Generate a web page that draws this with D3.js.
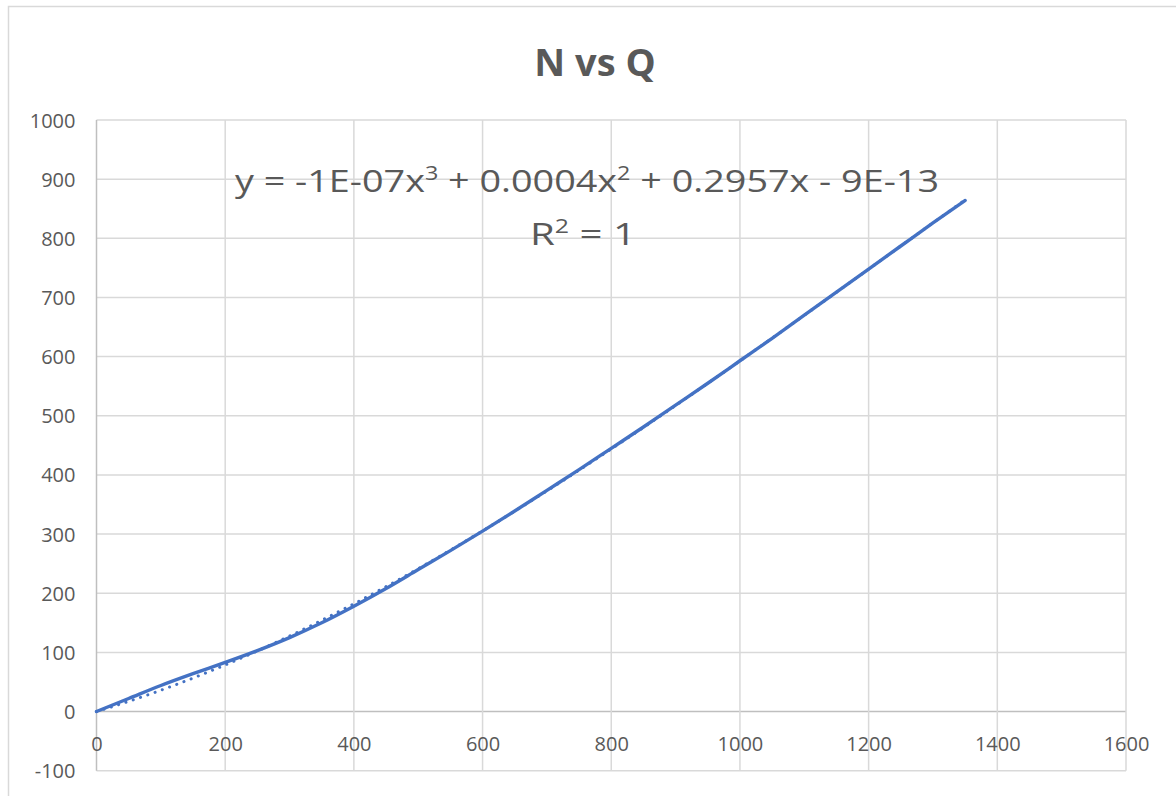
<!DOCTYPE html>
<html>
<head>
<meta charset="utf-8">
<script src="https://cdn.jsdelivr.net/npm/d3@7"></script>
<style>
  html, body { margin: 0; padding: 0; background: #ffffff; }
  svg { display: block; }
</style>
</head>
<body>
<svg id="chart" width="1176" height="796"></svg>
<script>
// ---- data ----
const chartTitle = "N vs Q";
const qValues = [0, 50, 100, 150, 200, 250, 300, 350, 400, 450, 500, 550, 600, 650, 700,
                 750, 800, 850, 900, 950, 1000, 1050, 1100, 1150, 1200, 1250, 1300, 1350];
const nValues = [0, 22, 44, 64, 83, 103, 125, 150, 178, 208, 240, 272, 305, 339, 374,
                 409, 445, 481, 518, 555, 593, 631, 670, 709, 748, 787, 826, 864];
const xTicks = [0, 200, 400, 600, 800, 1000, 1200, 1400, 1600];
const yTicks = [-100, 0, 100, 200, 300, 400, 500, 600, 700, 800, 900, 1000];
const equationParts = ["y = -1E-07x", "3", " + 0.0004x", "2", " + 0.2957x - 9E-13"];
const r2Parts = ["R", "2", " = 1"];

// ---- layout ----
const svg = d3.select("#chart");
const plot = { left: 96.5, right: 1126, top: 120, bottom: 770.7 };
const x = d3.scaleLinear().domain([0, 1600]).range([plot.left, plot.right]);
const y = d3.scaleLinear().domain([-100, 1000]).range([plot.bottom, plot.top]);
const font = "'Open Sans', 'Liberation Sans', sans-serif";
const textColor = "#595959";
const fmt = d => String(d);

// chart border
svg.append("rect").attr("x", 8.5).attr("y", 6.5).attr("width", 1180).attr("height", 800)
  .attr("fill", "#fff").attr("stroke", "#d9d9d9").attr("stroke-width", 1.5);

// gridlines
const grid = svg.append("g");
grid.selectAll("line.h").data(yTicks).join("line")
  .attr("x1", plot.left).attr("x2", plot.right)
  .attr("y1", d => y(d)).attr("y2", d => y(d))
  .attr("stroke", d => d === 0 ? "#bfbfbf" : "#d9d9d9").attr("stroke-width", 1.5);
grid.selectAll("line.v").data(xTicks).join("line")
  .attr("x1", d => x(d)).attr("x2", d => x(d))
  .attr("y1", plot.top).attr("y2", plot.bottom)
  .attr("stroke", d => d === 0 ? "#bfbfbf" : "#d9d9d9").attr("stroke-width", 1.5);

// axes labels
const xAxis = d3.axisBottom(x).tickValues(xTicks).tickFormat(fmt).tickSize(0).tickPadding(0);
const gx = svg.append("g").attr("transform", `translate(0,${y(0)})`).call(xAxis);
gx.select(".domain").remove();
gx.selectAll("text").attr("dy", null).attr("y", 39)
  .attr("font-family", font).attr("font-size", 20).attr("fill", textColor);

const yAxis = d3.axisLeft(y).tickValues(yTicks).tickFormat(fmt).tickSize(0).tickPadding(0);
const gy = svg.append("g").attr("transform", `translate(${plot.left - 21},0)`).call(yAxis);
gy.select(".domain").remove();
gy.selectAll("text").attr("dy", "0.35em")
  .attr("font-family", font).attr("font-size", 20).attr("fill", textColor);

// data line
const pts = qValues.map((q, i) => [q, nValues[i]]);
const line = d3.line().x(d => x(d[0])).y(d => y(d[1])).curve(d3.curveMonotoneX);
svg.append("path").datum(pts).attr("d", line)
  .attr("fill", "none").attr("stroke", "#4472C4").attr("stroke-width", 3.4)
  .attr("stroke-linecap", "round");

// cubic least-squares trendline (a x^3 + b x^2 + c x) fitted to the data
function polyFitNoIntercept(xs, ys, deg) {
  const n = deg;
  const A = Array.from({length: n}, () => new Array(n + 1).fill(0));
  xs.forEach((xv, k) => {
    const t = xv / 1000;
    for (let i = 0; i < n; i++) {
      for (let j = 0; j < n; j++) A[i][j] += Math.pow(t, i + j + 2);
      A[i][n] += ys[k] * Math.pow(t, i + 1);
    }
  });
  for (let c = 0; c < n; c++) {
    let p = c;
    for (let r = c + 1; r < n; r++) if (Math.abs(A[r][c]) > Math.abs(A[p][c])) p = r;
    [A[c], A[p]] = [A[p], A[c]];
    for (let r = 0; r < n; r++) {
      if (r === c) continue;
      const f = A[r][c] / A[c][c];
      for (let k = c; k <= n; k++) A[r][k] -= f * A[c][k];
    }
  }
  return A.map((row, i) => row[n] / row[i]);
}
const coef = polyFitNoIntercept(qValues, nValues, 3);
const trendX = d3.range(0, 1350 + 1, 10);
const trendPts = trendX.map(q => {
  const t = q / 1000;
  return [q, coef[0] * t + coef[1] * t * t + coef[2] * t * t * t];
});
svg.append("path").datum(trendPts).attr("d", d3.line().x(d => x(d[0])).y(d => y(d[1])))
  .attr("fill", "none").attr("stroke", "#4472C4").attr("stroke-width", 3)
  .attr("stroke-dasharray", "0.1 7.6").attr("stroke-linecap", "round");

// title
svg.append("text").attr("x", 595).attr("y", 76).attr("text-anchor", "middle")
  .attr("font-family", font).attr("font-size", 38).attr("font-weight", "bold")
  .attr("fill", textColor).text(chartTitle);

// equation label
function richText(parts, cx, cy, size, len) {
  const t = svg.append("text").attr("x", cx).attr("y", cy).attr("text-anchor", "middle")
    .attr("font-family", font).attr("font-size", size).attr("fill", textColor);
  if (len) t.attr("textLength", len).attr("lengthAdjust", "spacingAndGlyphs");
  parts.forEach((p, i) => {
    const sup = i % 2 === 1;
    t.append("tspan").text(p)
      .attr("font-size", sup ? size * 0.62 : size)
      .attr("dy", sup ? -size * 0.38 : (i > 0 ? size * 0.38 : 0));
  });
  return t;
}
richText(equationParts, 587, 192, 31, 704);
richText(r2Parts, 583, 245, 31, 106);
</script>
</body>
</html>
